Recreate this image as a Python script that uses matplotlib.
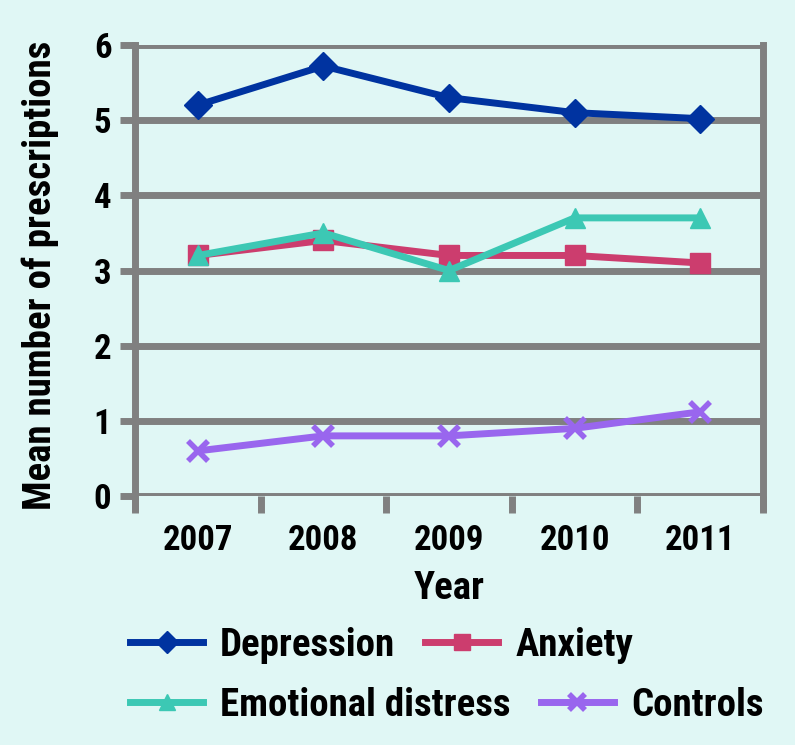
import matplotlib
matplotlib.use("Agg")
import matplotlib.pyplot as plt
from matplotlib import font_manager
from matplotlib.lines import Line2D

years = ["2007", "2008", "2009", "2010", "2011"]
depression = [5.2, 5.72, 5.3, 5.1, 5.02]
anxiety = [3.2, 3.4, 3.2, 3.2, 3.1]
emotional = [3.2, 3.5, 3.0, 3.7, 3.7]
controls = [0.6, 0.8, 0.8, 0.9, 1.12]
series_names = ["Depression", "Anxiety", "Emotional distress", "Controls"]

# pick a narrow bold font if there is one
names = set(f.name for f in font_manager.fontManager.ttflist)
fam = "DejaVu Sans"
for cand in ["Roboto Condensed", "Liberation Sans Narrow", "DejaVu Sans Condensed", "Open Sans Condensed"]:
    if cand in names:
        fam = cand
        break
plt.rcParams['font.family'] = [fam, "DejaVu Sans"]
plt.rcParams['font.weight'] = "bold"

bg = "#e0f7f5"
grey = "#808080"
colors = ["#0033a0", "#cc3d6e", "#3cc8b4", "#9966ee"]
markers = ["D", "s", "^", "x"]
fs_tick = 25
fs = 28

fig = plt.figure(figsize=(7.95, 7.45), dpi=100, facecolor=bg)
ax = fig.add_axes([135/795, 249/745, 628/795, 451/745])
ax.set_facecolor(bg)

x = list(range(len(years)))
data = [depression, anxiety, emotional, controls]
for vals, c, m, name in zip(data, colors, markers, series_names):
    ax.plot(x, vals, color=c, lw=5, marker=m, ms=14 if m != "x" else 15,
            mew=4 if m == "x" else 1, mec=c, label=name, zorder=3, clip_on=False)

ax.set_xlim(-0.5, 4.5)
ax.set_ylim(0, 6)
ax.set_yticks(range(7))
ax.yaxis.grid(True, color=grey, lw=5)
ax.set_axisbelow(True)
ax.tick_params(axis="y", length=11, width=5, color=grey, labelsize=fs_tick, pad=6)

ax.set_xticks(x)
ax.set_xticklabels(years)
ax.set_xticks([i - 0.5 for i in range(len(years) + 1)], minor=True)
ax.tick_params(axis="x", which="major", length=0, labelsize=fs_tick, pad=20)
ax.tick_params(axis="x", which="minor", length=12, width=5, color=grey)

for s in ["top", "bottom"]:
    ax.spines[s].set_visible(False)
for s in ["left", "right"]:
    ax.spines[s].set_color(grey)
    ax.spines[s].set_linewidth(5)
    ax.spines[s].set_bounds(-0.16, 6)

ax.set_xlabel("Year", fontsize=fs, fontweight="bold")
ax.xaxis.label.set_va("center")
ax.xaxis.set_label_coords(0.5, -0.204)
ax.set_ylabel("Mean number of prescriptions", fontsize=fs, fontweight="bold")
ax.yaxis.label.set_va("center")
ax.yaxis.set_label_coords(-0.151, 0.49)

handles = [Line2D([], [], color=c, lw=5, marker=m, ms=11 if m != "x" else 12,
                  mew=4 if m == "x" else 1, mec=c) for c, m in zip(colors, markers)]
leg_kw = dict(ncol=2, frameon=False, fontsize=fs, handlelength=1.88, handletextpad=0.44,
              columnspacing=0.77, loc="center left", borderpad=0, borderaxespad=0)
leg1 = fig.legend(handles[:2], series_names[:2], bbox_to_anchor=(130/795, 1 - 645/745), **leg_kw)
leg2 = fig.legend(handles[2:], series_names[2:], bbox_to_anchor=(130/795, 1 - 705/745), **leg_kw)

fig.savefig("out.png", dpi=100, facecolor=bg)
